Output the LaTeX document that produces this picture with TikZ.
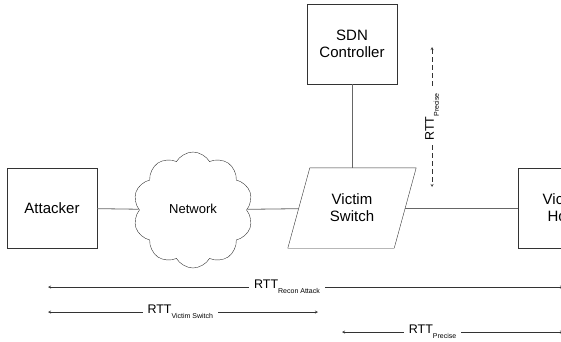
\documentclass[tikz,border=0pt]{standalone}
\usepackage{fontspec}
\setmainfont{Liberation Sans}
\usetikzlibrary{shapes.symbols,calc}
\begin{document}
\begin{tikzpicture}[
        x=1pt, y=-1pt,
        box/.style={draw=black!80, minimum width=90pt, minimum height=80pt, align=center, font=\fontsize{15}{17}\selectfont},
        switchbox/.style={minimum width=106pt, minimum height=80pt, inner sep=0pt, align=center, font=\fontsize{15}{17}\selectfont},
        cloudbox/.style={draw=black!80, cloud, cloud puffs=10, cloud puff arc=120, minimum width=120pt, minimum height=116pt, font=\fontsize{13}{15}\selectfont},
        link/.style={draw=black!60, line width=0.8pt},
        rtt/.style={<->, >=stealth, draw=black!80},
        lbl/.style={fill=white, inner sep=5pt, font=\fontsize{12.5}{14}\selectfont}
    ]
        \useasboundingbox (0,0) rectangle (561,341);
        \clip (0,0) rectangle (561,341);
        \node[box] (att) at (52, 208) {Attacker};
        \node[cloudbox] (net) at (193, 210) {\raisebox{3pt}{Network}};
        \node[switchbox] (sw) at (352, 208) {Victim\\Switch};
        \draw[draw=black!80] ($(sw.north west)+(11,0)$) -- ($(sw.north east)+(11,0)$)
            -- ($(sw.south east)+(-11,0)$) -- ($(sw.south west)+(-11,0)$) -- cycle;
        \node[box] (ctrl) at (352, 44) {SDN\\Controller};
        \node[box] (host) at (563, 208) {Victim\\Host};
        \draw[link] (att) -- (net);
        \draw[link] (net) -- (sw);
        \draw[link] (sw) -- (host);
        \draw[link] (ctrl) -- (sw);
        % RTT markers
        \coordinate (pt) at (432, 47);
        \coordinate (pb) at (432, 187);
        \draw[rtt, dash pattern=on 5pt off 3pt] (pt) -- node[lbl, rotate=90, inner sep=4pt] {RTT\raisebox{-5pt}{\fontsize{7}{8}\selectfont Precise}} (pb);
        \coordinate (ra) at (48, 287);
        \coordinate (rb) at (563, 287);
        \draw[rtt] (ra) -- node[lbl, pos=0.464] {RTT\raisebox{-5pt}{\fontsize{7}{8}\selectfont Recon Attack}} (rb);
        \coordinate (va) at (48, 312);
        \coordinate (vb) at (318, 312);
        \draw[rtt] (va) -- node[lbl, pos=0.49] {RTT\raisebox{-5pt}{\fontsize{7}{8}\selectfont Victim Switch}} (vb);
        \coordinate (qa) at (342, 332);
        \coordinate (qb) at (563, 332);
        \draw[rtt] (qa) -- node[lbl, pos=0.41] {RTT\raisebox{-5pt}{\fontsize{7}{8}\selectfont Precise}} (qb);
    \end{tikzpicture}
\end{document}
